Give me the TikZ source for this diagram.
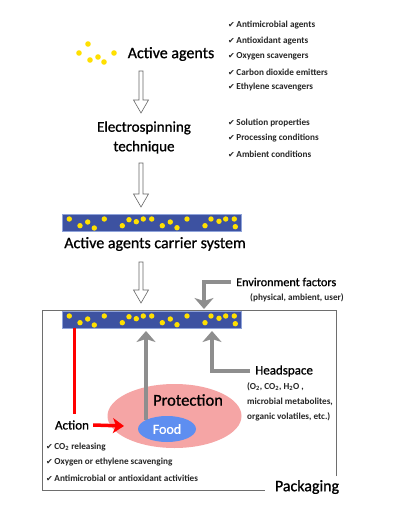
\documentclass[tikz,border=0pt]{standalone}
\usepackage{fontspec}
\setmainfont{Carlito}
\newfontfamily\semib[FakeBold=0.9]{Carlito}
\newfontfamily\symfont{DejaVu Sans}
\usetikzlibrary{arrows.meta,calc}
\definecolor{barblue}{HTML}{3D52A1}
\definecolor{barrim}{HTML}{8FA3DA}
\definecolor{dotyel}{HTML}{FFE000}
\definecolor{arrgray}{HTML}{8E8E8E}
\definecolor{boxgray}{HTML}{6E6E6E}
\definecolor{pinkish}{HTML}{F5A5A5}
\definecolor{foodblue}{HTML}{5E8EF0}
\newcommand{\ck}{{\symfont\fontsize{8}{9}\selectfont ✔}\,}
\tikzset{
  title/.style={font=\semib\fontsize{16}{19.5}\selectfont, align=center, inner sep=0pt},
  mid/.style={font=\semib\fontsize{13}{15}\selectfont, inner sep=0pt},
  small/.style={font=\bfseries\fontsize{9.2}{10}\selectfont, inner sep=0pt, anchor=west, text=black!85},
  dot/.style={fill=dotyel, draw=none},
  hollowarrow/.style={draw=black!60, fill=white, line width=0.6pt,
    to path={let \p1=(\tikztostart), \p2=(\tikztotarget) in
      (\x1-2pt,\y1) -- (\x1-2pt,\y2+13pt) -- (\x1-7.5pt,\y2+13pt) -- (\x1,\y2)
      -- (\x1+7.5pt,\y2+13pt) -- (\x1+2pt,\y2+13pt) -- (\x1+2pt,\y1) -- cycle}},
  grayarrow/.style={draw=arrgray, line width=4pt,
    -{Stealth[width=19pt,length=11pt,inset=3pt]}},
  redarrow/.style={draw=red, line width=3.5pt,
    -{Stealth[width=15pt,length=11pt,inset=3pt]}},
  redline/.style={draw=red, line width=3pt},
  boxline/.style={draw=boxgray, line width=1pt},
  carrier/.style={fill=barblue, draw=barrim, line width=0.6pt},
}
\newcommand{\dotsbar}[2]{%
  \foreach \dx/\dy in {7.3/5,18/11.7,25.7/8,32.3/14,42.3/5,60.3/11.7,67/5.7,74.3/7.7,81.3/5,89.7/5,100.3/11.7,108.3/8,115/13.7,125/5,143/11.7,149/5,157/7.3,163.7/5,172.3/5,173.3/12.7}
    {\fill[dot] (#1+\dx,#2+\dy) circle[radius=2.7];}}
\begin{document}
\begin{tikzpicture}[x=1pt,y=-1pt]
\useasboundingbox (0,0) rectangle (402,508);
\fill[white] (0,0) rectangle (402,508);

% active agents dots
\foreach \px/\py in {88/44,79/53,90/60,98/57,104/62,114/53}
  \fill[dot] (\px,\py) circle[radius=2.8];
\node[title] (agents) at (171,54) {Active agents};

% checklist 1
\node[small] (c11) at (228,25) {\ck Antimicrobial agents};
\node[small] (c12) at (228,41) {\ck Antioxidant agents};
\node[small] (c13) at (228,56) {\ck Oxygen scavengers};
\node[small] (c14) at (228,72) {\ck Carbon dioxide emitters};
\node[small] (c15) at (228,87) {\ck Ethylene scavengers};

\coordinate (a1s) at (141,71);
\coordinate (a1e) at (141,113);
\draw[hollowarrow] (a1s) to (a1e);

\node[title, font=\semib\fontsize{15}{19.5}\selectfont] (electro) at (144,137.5) {Electrospinning\\technique};

\node[small] (c21) at (228,123) {\ck Solution properties};
\node[small] (c22) at (228,138) {\ck Processing conditions};
\node[small] (c23) at (228,154) {\ck Ambient conditions};

\coordinate (a2s) at (141,163);
\coordinate (a2e) at (141,207);
\draw[hollowarrow] (a2s) to (a2e);

% carrier bar 1
\draw[carrier] (62,214) rectangle (241,231);
\dotsbar{62}{214}
\node[title] (carrier) at (155,244) {Active agents carrier system};

\coordinate (a3s) at (141,262);
\coordinate (a3e) at (141,303);
\draw[hollowarrow] (a3s) to (a3e);

% packaging box
\coordinate (pk1) at (336,476);
\coordinate (pk2) at (265,490);
\draw[boxline] (pk1) -- (336,310) -- (42,310) -- (42,490) -- (pk2);
\node[font=\semib\fontsize{16}{18}\selectfont, inner sep=0pt] (packaging) at (307,487) {Packaging};

% environment factors
\node[mid, anchor=west, font=\semib\fontsize{12.2}{14}\selectfont] (env) at (236,282) {Environment factors};
\node[small] (envd) at (250,298) {(physical, ambient, user)};
\coordinate (envt) at (204,309);
\draw[grayarrow] ([xshift=-5pt]env.west) -| (envt);

% carrier bar 2
\draw[carrier] (62,311) rectangle (241,328);
\dotsbar{62}{311}

% protection ellipse
\fill[pinkish] (174.5,416) ellipse[x radius=67, y radius=32];
\node[font=\semib\fontsize{16.5}{18}\selectfont, inner sep=0pt] (protection) at (188,400) {Protection};

% food arrow
\coordinate (fdt) at (146,331);
\coordinate (fds) at (146,420);
\draw[grayarrow] (fds) -- (fdt);

% food
\fill[foodblue] (167,429) ellipse[x radius=29, y radius=13];
\node[mid, text=white, font=\semib\fontsize{14}{15}\selectfont] (food) at (167,429) {Food};

% headspace
\node[mid, anchor=west] (head) at (255,371) {Headspace};
\node[small] (hd1) at (247,387) {(O\textsubscript{2}, CO\textsubscript{2}, H\textsubscript{2}O ,};
\node[small] (hd2) at (247,402) {microbial metabolites,};
\node[small] (hd3) at (247,417) {organic volatiles, etc.)};
\coordinate (hdt) at (212,331);
\draw[grayarrow] ([xshift=-5pt]head.west) -| (hdt);

% action
\coordinate (rl1) at (74,328);
\node[mid] (action) at (72,425) {Action};
\draw[redline] (rl1) -- (74,414);
\coordinate (rat) at (124,426);
\draw[redarrow] (action.east) ++(4,0) -- (rat);

% checklist 3
\node[small] (c31) at (46,447) {\ck CO\textsubscript{2} releasing};
\node[small] (c32) at (46,462) {\ck Oxygen or ethylene scavenging};
\node[small] (c33) at (46,478) {\ck Antimicrobial or antioxidant activities};
\end{tikzpicture}
\end{document}
